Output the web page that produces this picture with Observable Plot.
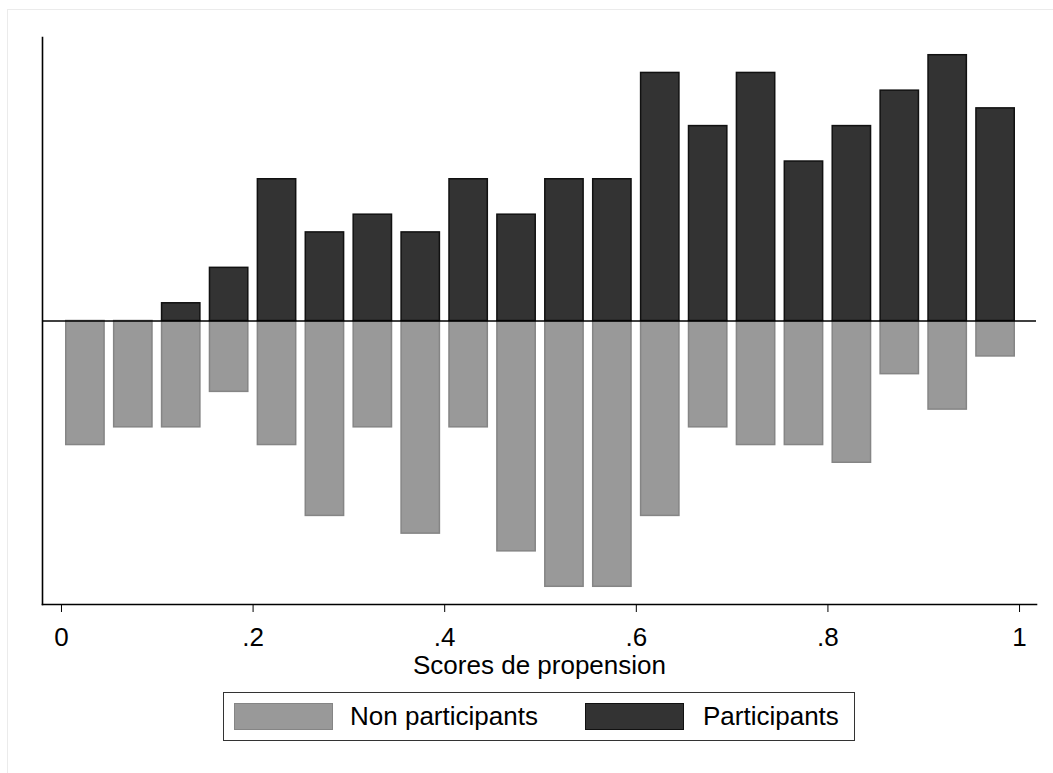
<!DOCTYPE html>
<html>
<head>
<meta charset="utf-8">
<script src="https://cdn.jsdelivr.net/npm/d3@7"></script>
<script src="https://cdn.jsdelivr.net/npm/@observablehq/plot@0.6"></script>
<style>
  html, body { margin: 0; padding: 0; background: #fff; }
  #wrap { position: relative; width: 1053px; height: 773px; overflow: hidden; font-family: "Liberation Sans", Arial, sans-serif; }
  #frame { position: absolute; left: 7px; top: 9px; width: 1200px; height: 900px; border: 1px solid #ebebeb; box-sizing: border-box; }
  #chart { position: absolute; left: 0; top: 0; }
  #legend { position: absolute; left: 223px; top: 692px; width: 632px; height: 49px; border: 1.5px solid #333; box-sizing: border-box; background: #fff; }
  .sw { position: absolute; top: 10px; width: 99px; height: 27px; box-sizing: border-box; }
  .lt { position: absolute; top: 0; line-height: 46px; font-size: 26px; color: #000; white-space: nowrap; }
</style>
</head>
<body>
<div id="wrap">
  <div id="frame"></div>
  <div id="chart"></div>
  <div id="legend"></div>
</div>
<script>
// Bin centers of the propensity score histogram (width 0.05)
const binCenters = [0.025, 0.075, 0.125, 0.175, 0.225, 0.275, 0.325, 0.375, 0.425, 0.475,
                    0.525, 0.575, 0.625, 0.675, 0.725, 0.775, 0.825, 0.875, 0.925, 0.975];
// Counts
const participants    = [0, 0, 1, 3, 8, 5, 6, 5, 8, 6, 8, 8, 14, 11, 14, 9, 11, 13, 15, 12];
const nonParticipants = [7, 6, 6, 4, 7, 11, 6, 12, 6, 13, 15, 15, 11, 6, 7, 7, 8, 3, 5, 2];
const xTicks = [0, 0.2, 0.4, 0.6, 0.8, 1];
const groupLabels = ["Non participants", "Participants"];
const groupFill = ["#999999", "#333333"];
const groupStroke = ["#858585", "#111111"];

const halfWidth = 0.02;
const rows = [];
binCenters.forEach((c, i) => {
  if (participants[i] > 0) rows.push({x1: c - halfWidth, x2: c + halfWidth, y: participants[i], g: 1});
  if (nonParticipants[i] > 0) rows.push({x1: c - halfWidth, x2: c + halfWidth, y: -nonParticipants[i], g: 0});
});

const fmt = d => d === 0 ? "0" : d === 1 ? "1" : String(d).replace(/^0\./, ".");

const plot = Plot.plot({
  width: 1053,
  height: 690,
  marginLeft: 42,
  marginRight: 17,
  marginTop: 37,
  marginBottom: 86,
  style: { fontFamily: "Liberation Sans, Arial, sans-serif", fontSize: "26px", background: "transparent", color: "#000", overflow: "visible" },
  x: { domain: [-0.0198, 1.0177] },
  y: { domain: [-16, 16], axis: null },
  marks: [
    Plot.rectY(rows.filter(d => d.g === 0), {x1: "x1", x2: "x2", y1: 0, y2: "y", fill: groupFill[0], stroke: groupStroke[0], strokeWidth: 1.5}),
    Plot.rectY(rows.filter(d => d.g === 1), {x1: "x1", x2: "x2", y1: 0, y2: "y", fill: groupFill[1], stroke: groupStroke[1], strokeWidth: 1.5}),
    Plot.ruleY([0], {stroke: "#000", strokeWidth: 1.3}),
    Plot.frame({anchor: "left", stroke: "#000", strokeWidth: 1.6}),
    Plot.frame({anchor: "bottom", stroke: "#000", strokeWidth: 1.6}),
    Plot.axisX({ticks: xTicks, tickFormat: fmt, tickSize: 8, tickPadding: 15, fontSize: 26,
                label: "Scores de propension", labelAnchor: "center", labelOffset: 69, labelArrow: "none"})
  ]
});
document.getElementById("chart").appendChild(plot);

// Legend
const legend = document.getElementById("legend");
const swLeft = [10, 361];
const txtLeft = [126, 479];
groupLabels.forEach((lab, i) => {
  const sw = document.createElement("div");
  sw.className = "sw";
  sw.style.left = swLeft[i] + "px";
  sw.style.background = groupFill[i];
  sw.style.border = "1.5px solid " + groupStroke[i];
  legend.appendChild(sw);
  const t = document.createElement("div");
  t.className = "lt";
  t.style.left = txtLeft[i] + "px";
  t.textContent = lab;
  legend.appendChild(t);
});
</script>
</body>
</html>
